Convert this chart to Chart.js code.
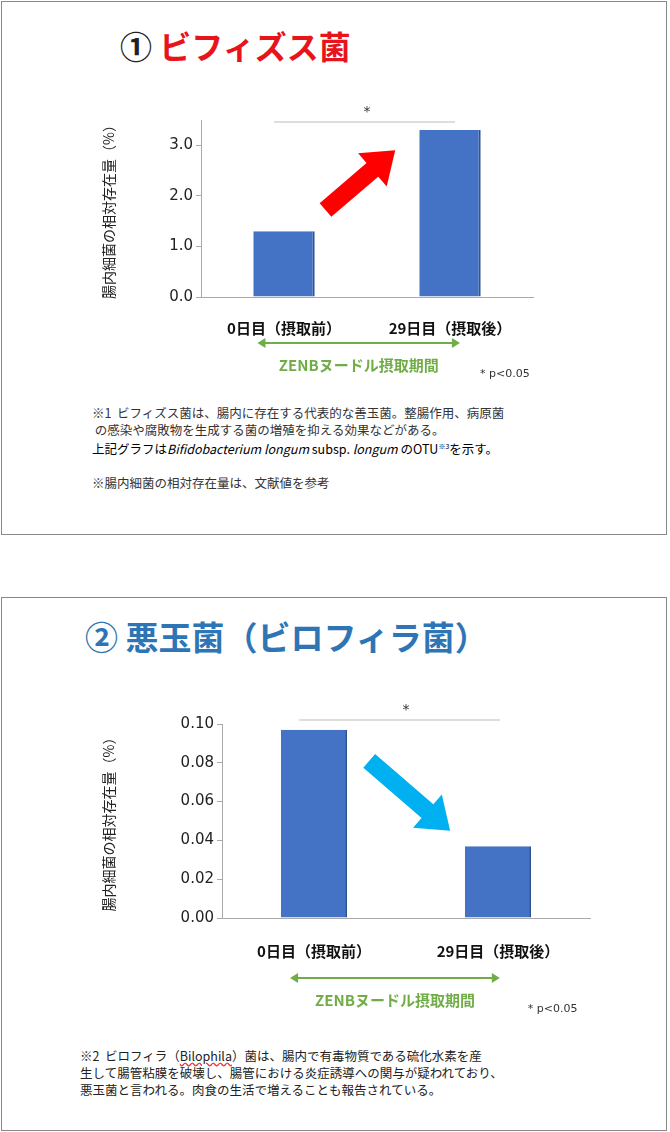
<!DOCTYPE html>
<html><head><meta charset="utf-8">
<script src="https://cdn.jsdelivr.net/npm/chart.js@4"></script>
<style>
body{margin:0;width:670px;height:1132px;background:#fff;position:relative;font-family:"Noto Sans CJK JP",sans-serif;overflow:hidden}
.box{position:absolute;left:1px;width:666px;border:1px solid #888;box-sizing:border-box}
.t{position:absolute;font-weight:bold;white-space:nowrap}
.note{position:absolute;font-size:12.5px;line-height:17px;color:#333;white-space:nowrap}
canvas{position:absolute}
</style></head><body>
<div class="box" style="top:1px;height:534px"></div>
<div class="box" style="top:597px;height:534px"></div>
<div class="t" style="left:120px;top:22px;font-size:32px"><span style="color:#222">①</span> <span style="color:#e8141b">ビフィズス菌</span></div>
<div class="t" style="left:85px;top:612px;font-size:33px;color:#2e75b6">② 悪玉菌（ビロフィラ菌）</div>
<div style="position:absolute;left:100px;top:95px;width:440px;height:300px"><canvas id="c1"></canvas></div>
<div style="position:absolute;left:100px;top:690px;width:500px;height:340px"><canvas id="c2"></canvas></div>
<div class="note" style="left:92px;top:404px">※1&nbsp; ビフィズス菌は、腸内に存在する代表的な善玉菌。整腸作用、病原菌<br>&nbsp;の感染や腐敗物を生成する菌の増殖を抑える効果などがある。<br><span style="color:#000">上記グラフは<i>Bifidobacterium longum</i> subsp. <i>longum</i> のOTU<sup style="font-size:7px">※3</sup>を示す。</span><br><br>※腸内細菌の相対存在量は、文献値を参考</div>
<div class="note" style="left:80px;top:1047px;color:#222">※2&nbsp; ビロフィラ（<u style="text-decoration-color:#e33;text-decoration-style:wavy">Bilophila</u>）菌は、腸内で有毒物質である硫化水素を産<br>生して腸管粘膜を破壊し、腸管における炎症誘導への関与が疑われており、<br>悪玉菌と言われる。肉食の生活で増えることも報告されている。</div>
<script>
const categories = ["0日目（摂取前）", "29日目（摂取後）"];
const bifidoValues = [1.3, 3.3];
const bilophilaValues = [0.097, 0.037];
const yTitle = "腸内細菌の相対存在量（%）";
const periodLabel = "ZENBヌードル摂取期間";

function arrowHead(ctx, x1, y1, x2, y2, len, wid) {
  const a = Math.atan2(y2 - y1, x2 - x1);
  ctx.beginPath();
  ctx.moveTo(x2, y2);
  ctx.lineTo(x2 - len * Math.cos(a) + wid * Math.sin(a), y2 - len * Math.sin(a) - wid * Math.cos(a));
  ctx.lineTo(x2 - len * Math.cos(a) - wid * Math.sin(a), y2 - len * Math.sin(a) + wid * Math.cos(a));
  ctx.closePath(); ctx.fill();
}

const extras = {
  id: "extras",
  afterDraw(chart, args, o) {
    const ctx = chart.ctx, x = chart.scales.x, y = chart.scales.y, ca = chart.chartArea;
    const x0 = x.getPixelForValue(0), x1 = x.getPixelForValue(1), w = x1 - x0;
    ctx.save();
    // significance bracket
    ctx.strokeStyle = "#bbb"; ctx.lineWidth = 1;
    ctx.beginPath(); ctx.moveTo(x0 + w * o.br[0], ca.top + o.brY); ctx.lineTo(x1 + w * o.br[1], ca.top + o.brY); ctx.stroke();
    ctx.fillStyle = "#333"; ctx.font = "14px 'DejaVu Sans'"; ctx.textAlign = "center";
    ctx.fillText("*", (x0 + x1) / 2, ca.top + o.brY - 6);
    // green period arrow
    const gy = ca.bottom + o.gY;
    ctx.strokeStyle = "#70ad47"; ctx.fillStyle = "#70ad47"; ctx.lineWidth = 2;
    const ga = x0 + w * o.g[0], gb = x1 + w * o.g[1];
    ctx.beginPath(); ctx.moveTo(ga + 6, gy); ctx.lineTo(gb - 6, gy); ctx.stroke();
    arrowHead(ctx, gb, gy, ga, gy, 8, 5); arrowHead(ctx, ga, gy, gb, gy, 8, 5);
    ctx.font = "bold 15px 'Noto Sans CJK JP'";
    ctx.fillText(periodLabel, (ga + gb) / 2, gy + 28);
    ctx.fillStyle = "#333"; ctx.font = "11px 'DejaVu Sans'"; ctx.textAlign = "left";
    ctx.fillText("* p<0.05", gb + o.pOff, gy + 34);
    // trend arrow
    const sx = x0 + w * o.ax[0], ex = x0 + w * o.ax[1];
    const sy = y.getPixelForValue(o.ay[0]), ey = y.getPixelForValue(o.ay[1]);
    ctx.strokeStyle = o.ac; ctx.fillStyle = o.ac; ctx.lineWidth = 18; ctx.lineCap = "butt";
    const a = Math.atan2(ey - sy, ex - sx);
    ctx.beginPath(); ctx.moveTo(sx, sy); ctx.lineTo(ex - 22 * Math.cos(a), ey - 22 * Math.sin(a)); ctx.stroke();
    arrowHead(ctx, sx, sy, ex, ey, 30, 22);
    ctx.restore();
  }
};

function make(id, values, cfg) {
  return new Chart(document.getElementById(id), {
    type: "bar",
    data: { labels: categories, datasets: [{ data: values, backgroundColor: "#4472c4", borderColor: "#2f528f", borderWidth: {right: 2}, categoryPercentage: 1, barPercentage: cfg.bp }] },
    options: {
      responsive: true, maintainAspectRatio: false, animation: false,
      layout: { padding: { top: cfg.pt, right: cfg.pr, left: 0, bottom: 0 } },
      plugins: { legend: { display: false }, tooltip: { enabled: false }, extras: cfg.ex },
      scales: {
        x: {
          grid: { display: false }, border: { color: "#aaa" },
          ticks: { color: "#111", font: { size: 15, weight: "bold", family: "'Noto Sans CJK JP'" }, padding: cfg.tp },
          afterFit: s => { s.height = cfg.xh; }
        },
        y: {
          min: 0, max: cfg.max, border: { color: "#aaa" },
          grid: { drawOnChartArea: false, tickLength: 5, color: "#aaa" },
          afterBuildTicks: s => { s.ticks = s.ticks.filter(t => Math.abs(t.value / cfg.step - Math.round(t.value / cfg.step)) < 1e-6); },
          ticks: { stepSize: cfg.step, color: "#222", font: { size: 15, family: "'DejaVu Sans'" }, callback: v => v.toFixed(cfg.dec) },
          title: { display: true, text: yTitle, color: "#222", font: { size: 14, family: "'Noto Sans CJK JP'" }, padding: 0 },
          afterFit: s => { s.width = cfg.yw; }
        }
      }
    },
    plugins: [extras]
  });
}

make("c1", bifidoValues, { bp: 0.37, pt: 25, pr: 7, xh: 98, yw: 101, max: 3.5, step: 1, dec: 1, tp: 14,
  ex: { brY: 2, br: [-0.06, 0.03], gY: 46, g: [-0.16, 0.06], pOff: 20, ax: [0.25, 0.67], ay: [1.72, 2.9], ac: "#ff0000" } });
make("c2", bilophilaValues, { bp: 0.36, pt: 34, pr: 10, xh: 112, yw: 122, max: 0.10, step: 0.02, dec: 2, tp: 16,
  ex: { brY: -4, br: [-0.08, 0.01], gY: 60, g: [-0.13, 0.01], pOff: 28, ax: [0.30, 0.74], ay: [0.081, 0.045], ac: "#00b0f0" } });
</script>
</body></html>
